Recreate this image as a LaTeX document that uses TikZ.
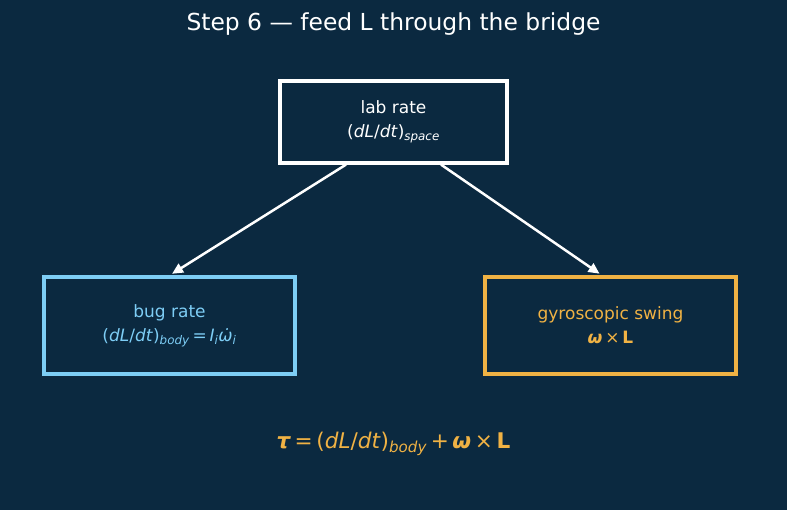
\documentclass[tikz,border=0pt]{standalone}
\usepackage{fontspec}
\setmainfont{DejaVu Sans}
\usetikzlibrary{arrows.meta,positioning}
\definecolor{bgnavy}{RGB}{11,41,64}
\definecolor{bugblue}{RGB}{125,205,245}
\definecolor{gyroorange}{RGB}{240,178,68}

\begin{document}
\begin{tikzpicture}[
  x=1pt, y=-1pt,
  box/.style={draw, line width=3.2pt, align=center, inner sep=0pt, fill=bgnavy,
    minimum width=251pt, minimum height=97pt, font=\fontsize{17}{24}\selectfont},
  arrow/.style={-{Triangle[length=11pt,width=10pt]}, line width=2.5pt, white, shorten >=3pt}
]
\fill[bgnavy] (0,0) rectangle (787,510);
\useasboundingbox (0,0) rectangle (787,510);
\node[text=white, font=\fontsize{23.4}{28}\selectfont] (title) at (393.5,24) {Step 6 — feed L through the bridge};

% the three rates
\node[box, draw=white, text=white, minimum width=227pt, minimum height=82pt] (lab) at (393.5,122)
  {lab rate\\(\textit{dL}/\textit{dt})\textsubscript{\textit{space}}};
\node[box, draw=bugblue, text=bugblue] (bug) at (169.5,325.5)
  {bug rate\\(\textit{dL}/\textit{dt})\textsubscript{\textit{body}}\,=\,\textit{I}\textsubscript{\textit{i}}\textit{\.{ω}}\textsubscript{\textit{i}}};
\node[box, draw=gyroorange, text=gyroorange] (gyro) at (610.5,325.5)
  {gyroscopic swing\\\textbf{\textit{ω}}\,×\,\textbf{L}};

\draw[arrow] ([xshift=-47.5pt]lab.south) -- (bug.north);
\draw[arrow] ([xshift=47.5pt]lab.south) -- ([xshift=-8.5pt]gyro.north);

% sum
\node[text=gyroorange, font=\fontsize{21.6}{26}\selectfont] (sum) at (393.5,444)
  {\textbf{\textit{τ}}\,=\,(\textit{dL}/\textit{dt})\textsubscript{\textit{body}}\,+\,\textbf{\textit{ω}}\,×\,\textbf{L}};
\end{tikzpicture}
\end{document}
